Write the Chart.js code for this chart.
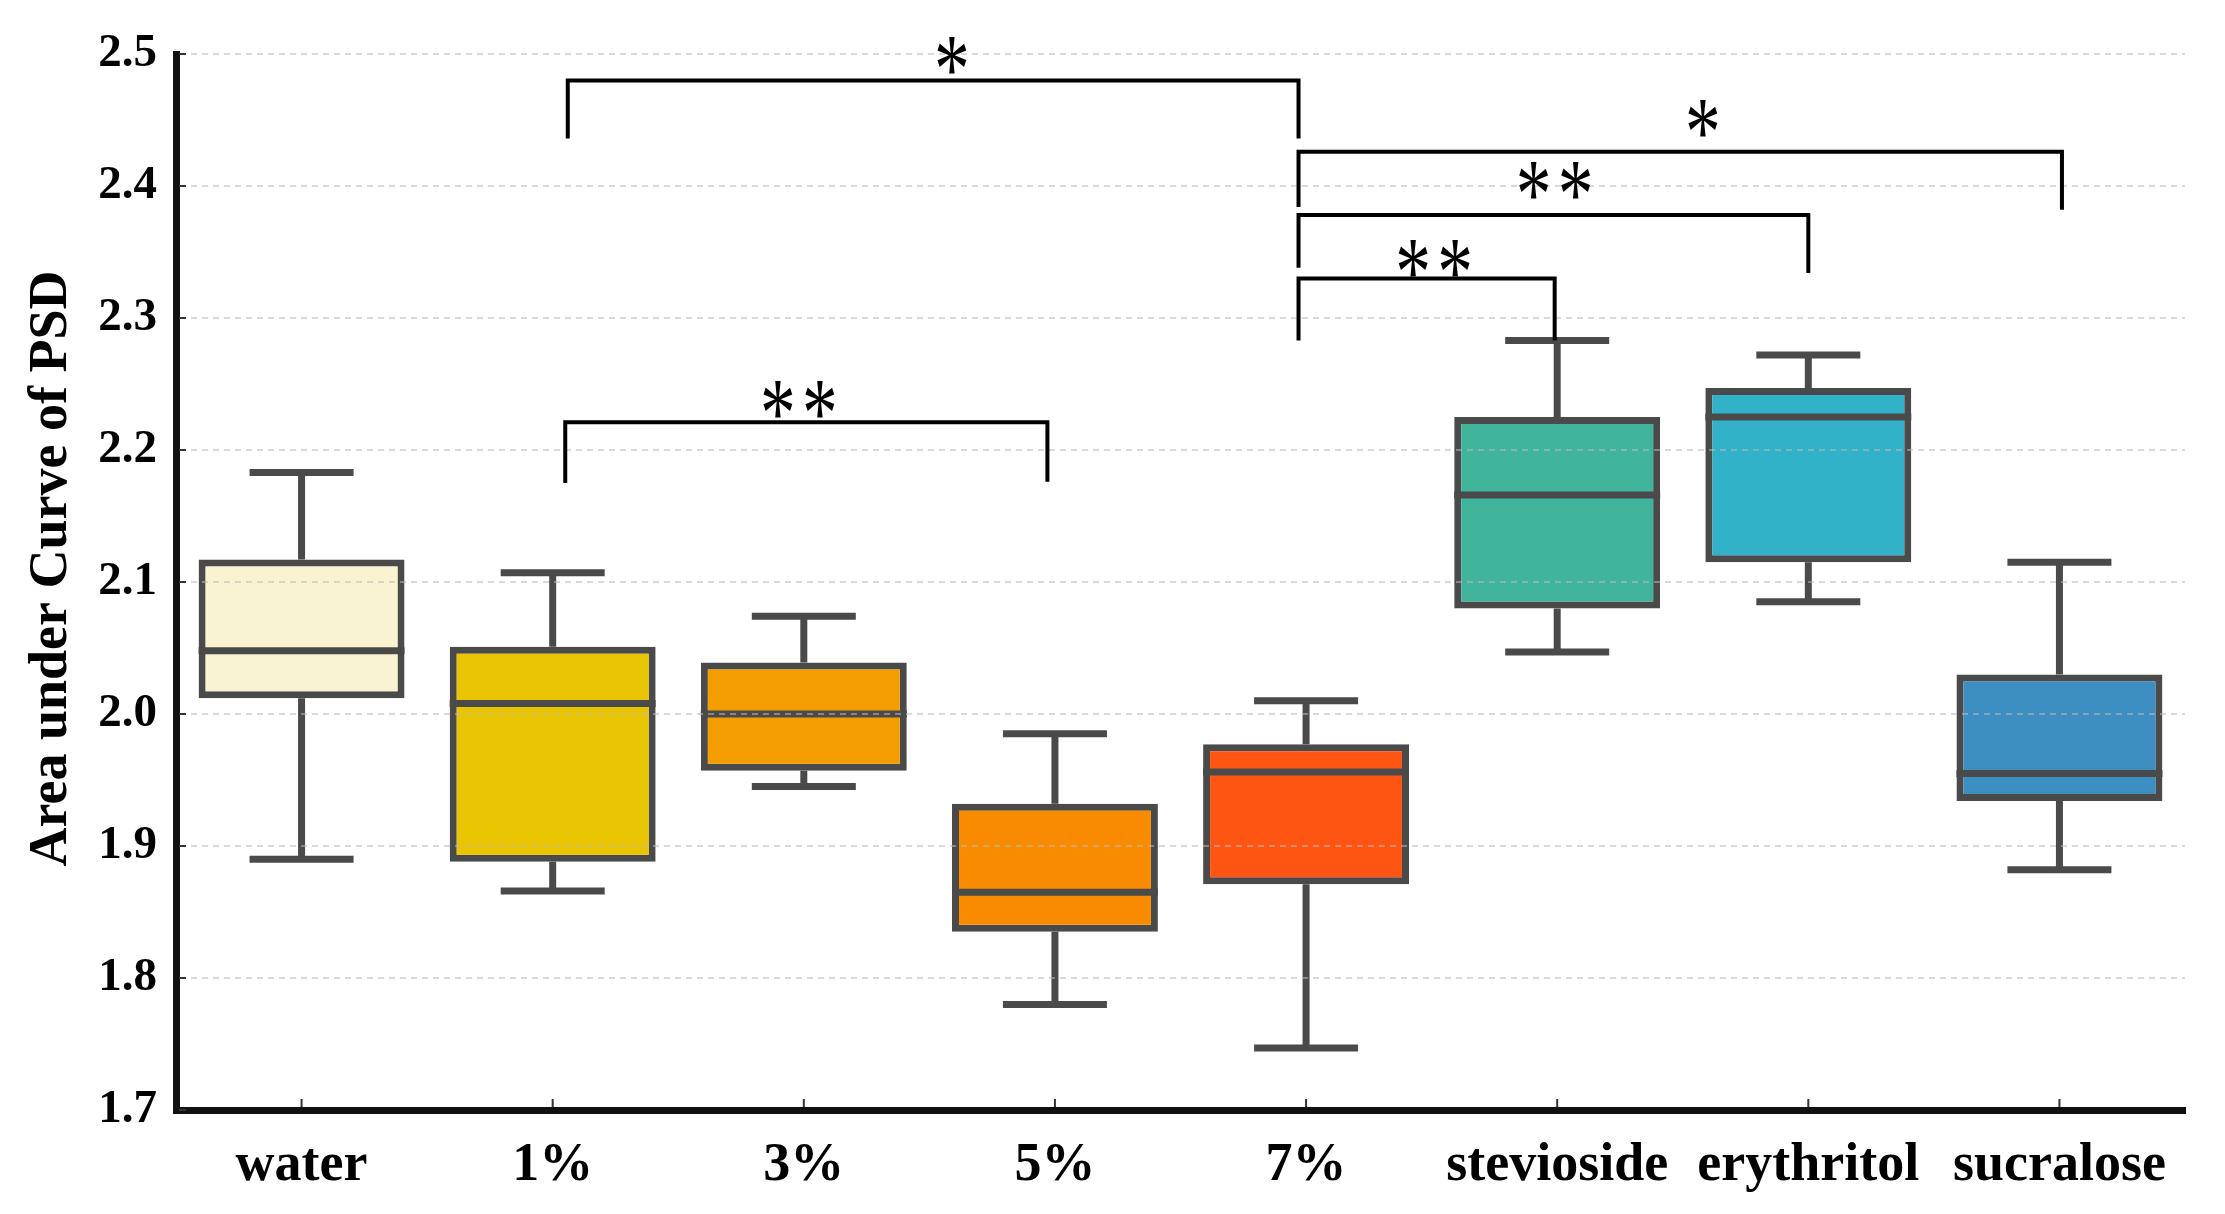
<!DOCTYPE html>
<html>
<head>
<meta charset="utf-8">
<script src="https://cdn.jsdelivr.net/npm/chart.js@4.4.1/dist/chart.umd.min.js"></script>
<style>
  html, body { margin: 0; padding: 0; background: #fff; }
  #wrap { width: 2225px; height: 1214px; }
</style>
</head>
<body>
<div id="wrap"><canvas id="psdChart" width="2225" height="1214"></canvas></div>
<script>
// groups and box values
const categories = ['water', '1%', '3%', '5%', '7%', 'stevioside', 'erythritol', 'sucralose'];
const whiskerMin = [1.890, 1.866, 1.945, 1.780, 1.747, 2.047, 2.085, 1.882];
const q1 = [2.012, 1.888, 1.957, 1.835, 1.871, 2.080, 2.115, 1.934];
const median = [2.048, 2.008, 2.000, 1.865, 1.956, 2.166, 2.225, 1.955];
const q3 = [2.117, 2.051, 2.039, 1.932, 1.977, 2.225, 2.247, 2.030];
const whiskerMax = [2.183, 2.107, 2.074, 1.985, 2.010, 2.283, 2.272, 2.115];
const boxColors = ['#FAF3D2', '#E9C400', '#F39D00', '#F88B00', '#FF5513', '#40B59C', '#31B2C9', '#3C8FC0'];

const yTicks = [1.7, 1.8, 1.9, 2.0, 2.1, 2.2, 2.3, 2.4, 2.5];

// significance brackets (category index, value)
const bracketFrom = [1.06, 1.05, 3.97, 3.97, 3.97];
const bracketTo = [3.97, 2.97, 4.99, 6.0, 7.01];
const bracketTop = [2.480, 2.221, 2.330, 2.378, 2.426];
const bracketLeftEnd = [2.436, 2.175, 2.283, 2.338, 2.384];
const bracketRightEnd = [2.436, 2.176, 2.283, 2.334, 2.382];
const starText = ['*', '**', '**', '**', '*'];
const starX = [2.59, 1.98, 4.51, 4.99, 5.58];
const starY = [2.499, 2.238, 2.345, 2.404, 2.451];

const edgeColor = '#4a4a4a';

const boxParts = {
    id: 'boxParts',
    beforeDatasetsDraw(chart) {
        const ctx = chart.ctx;
        const y = chart.scales.y;
        const bars = chart.getDatasetMeta(0).data;
        ctx.save();
        ctx.strokeStyle = edgeColor;
        ctx.lineWidth = 7;
        ctx.lineCap = 'butt';
        bars.forEach((bar, i) => {
            const yMax = y.getPixelForValue(whiskerMax[i]);
            const yMin = y.getPixelForValue(whiskerMin[i]);
            ctx.beginPath();
            ctx.moveTo(bar.x, y.getPixelForValue(q3[i]));
            ctx.lineTo(bar.x, yMax);
            ctx.moveTo(bar.x, y.getPixelForValue(q1[i]));
            ctx.lineTo(bar.x, yMin);
            ctx.moveTo(bar.x - 52, yMax);
            ctx.lineTo(bar.x + 52, yMax);
            ctx.moveTo(bar.x - 52, yMin);
            ctx.lineTo(bar.x + 52, yMin);
            ctx.stroke();
        });
        ctx.restore();
    },
    afterDatasetsDraw(chart) {
        const ctx = chart.ctx;
        const y = chart.scales.y;
        const bars = chart.getDatasetMeta(0).data;
        ctx.save();
        ctx.strokeStyle = edgeColor;
        ctx.lineWidth = 7;
        bars.forEach((bar, i) => {
            const ym = y.getPixelForValue(median[i]);
            ctx.beginPath();
            ctx.moveTo(bar.x - bar.width / 2, ym);
            ctx.lineTo(bar.x + bar.width / 2, ym);
            ctx.stroke();
        });
        ctx.restore();
    }
};

// one asterisk, sized from its measured ink box
function drawStar(ctx, cx, cy) {
    ctx.save();
    ctx.font = '400 100px "Liberation Serif"';
    const m = ctx.measureText('*');
    const w = m.actualBoundingBoxLeft + m.actualBoundingBoxRight;
    const h = m.actualBoundingBoxAscent + m.actualBoundingBoxDescent;
    const sx = 30 / w, sy = 37 / h;
    ctx.translate(cx, cy);
    ctx.scale(sx, sy);
    ctx.textAlign = 'left';
    ctx.textBaseline = 'alphabetic';
    const ox = -(m.actualBoundingBoxRight - m.actualBoundingBoxLeft) / 2;
    const oy = (m.actualBoundingBoxAscent - m.actualBoundingBoxDescent) / 2;
    ctx.fillStyle = '#000';
    ctx.fillText('*', ox, oy);
    ctx.restore();
}

const significance = {
    id: 'significance',
    afterDraw(chart) {
        const ctx = chart.ctx;
        const x = chart.scales.x;
        const y = chart.scales.y;
        const area = chart.chartArea;
        ctx.save();
        // small inner ticks
        ctx.strokeStyle = '#333';
        ctx.lineWidth = 2;
        ctx.beginPath();
        categories.forEach((c, i) => {
            const px = x.getPixelForValue(i);
            ctx.moveTo(px, area.bottom - 3);
            ctx.lineTo(px, area.bottom - 11);
        });
        yTicks.forEach(v => {
            const py = y.getPixelForValue(v);
            ctx.moveTo(area.left + 3, py);
            ctx.lineTo(area.left + 10, py);
        });
        ctx.stroke();

        ctx.strokeStyle = '#000';
        ctx.lineWidth = 4;
        ctx.lineCap = 'butt';
        ctx.lineJoin = 'miter';
        bracketFrom.forEach((f, i) => {
            const x1 = x.getPixelForValue(f);
            const x2 = x.getPixelForValue(bracketTo[i]);
            ctx.beginPath();
            ctx.moveTo(x1, y.getPixelForValue(bracketLeftEnd[i]));
            ctx.lineTo(x1, y.getPixelForValue(bracketTop[i]));
            ctx.lineTo(x2, y.getPixelForValue(bracketTop[i]));
            ctx.lineTo(x2, y.getPixelForValue(bracketRightEnd[i]));
            ctx.stroke();
        });
        starText.forEach((s, i) => {
            const cx = x.getPixelForValue(starX[i]);
            const cy = y.getPixelForValue(starY[i]);
            if (s.length === 1) {
                drawStar(ctx, cx, cy);
            } else {
                drawStar(ctx, cx - 21, cy);
                drawStar(ctx, cx + 21, cy);
            }
        });
        ctx.restore();
    }
};

const ctx = document.getElementById('psdChart').getContext('2d');
new Chart(ctx, {
    type: 'bar',
    data: {
        labels: categories,
        datasets: [{
            data: q1.map((v, i) => [v, q3[i]]),
            backgroundColor: boxColors,
            borderColor: edgeColor,
            borderWidth: 7,
            borderSkipped: false,
            barPercentage: 0.82,
            categoryPercentage: 1.0
        }]
    },
    options: {
        responsive: false,
        devicePixelRatio: 1,
        animation: false,
        layout: { padding: { top: 54, right: 40, left: 0, bottom: 0 } },
        plugins: {
            legend: { display: false },
            tooltip: { enabled: false }
        },
        scales: {
            x: {
                grid: { display: false, drawTicks: false },
                border: { display: true, color: '#111', width: 7, z: 2 },
                ticks: {
                    color: '#000',
                    padding: 24,
                    font: { family: '"Liberation Serif"', size: 54, weight: 'bold' }
                },
                afterFit: scale => { scale.height = 104; }
            },
            y: {
                min: 1.7,
                max: 2.5,
                afterBuildTicks: scale => { scale.ticks = yTicks.map(v => ({ value: v })); },
                grid: {
                    color: 'rgba(185,185,185,0.55)',
                    lineWidth: 2,
                    drawTicks: false,
                    z: 1
                },
                border: { display: true, color: '#111', width: 7, dash: [6, 5], z: 2 },
                ticks: {
                    color: '#000',
                    padding: 19,
                    font: { family: '"Liberation Serif"', size: 47, weight: 'bold' },
                    callback: v => Number(v).toFixed(1)
                },
                title: {
                    display: true,
                    // two leading spaces nudge the rotated title up a little
                    text: '\u00a0\u00a0Area under Curve of PSD',
                    color: '#000',
                    padding: { top: 20, bottom: 0 },
                    font: { family: '"Liberation Serif"', size: 54, weight: 'bold' }
                },
                afterFit: scale => { scale.width = 176; }
            }
        }
    },
    plugins: [boxParts, significance]
});
</script>
</body>
</html>
